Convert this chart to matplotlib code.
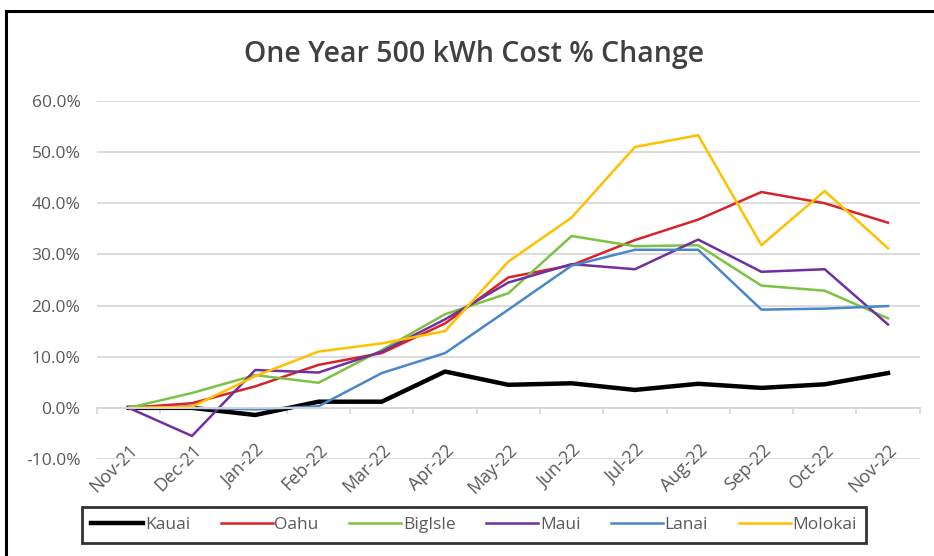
import matplotlib
matplotlib.use("Agg")
import matplotlib.pyplot as plt
from matplotlib.lines import Line2D
from matplotlib.ticker import FuncFormatter, FixedLocator

plt.rcParams['font.family'] = ['Open Sans', 'DejaVu Sans']

# months on the x axis
months = ["Nov-21", "Dec-21", "Jan-22", "Feb-22", "Mar-22", "Apr-22", "May-22",
          "Jun-22", "Jul-22", "Aug-22", "Sep-22", "Oct-22", "Nov-22"]

# % change per island
kauai   = [0.0, 0.0, -1.4, 1.2, 1.2, 7.1, 4.5, 4.8, 3.5, 4.7, 3.9, 4.6, 6.8]
oahu    = [0.0, 0.9, 4.2, 8.4, 10.7, 16.5, 25.5, 27.9, 32.8, 36.8, 42.2, 40.0, 36.2]
bigisle = [0.0, 2.9, 6.4, 4.9, 11.3, 18.3, 22.4, 33.6, 31.6, 31.8, 23.9, 22.9, 17.5]
maui    = [0.0, -5.5, 7.4, 6.9, 11.0, 17.3, 24.5, 28.1, 27.1, 32.9, 26.6, 27.1, 16.3]
lanai   = [0.0, 0.0, -0.3, 0.3, 6.8, 10.7, 19.2, 27.8, 30.9, 30.9, 19.2, 19.4, 19.9]
molokai = [0.0, 0.2, 6.2, 11.0, 12.6, 15.0, 28.6, 37.2, 51.0, 53.3, 31.8, 42.4, 31.2]

series = [
    ("Kauai", kauai, "#000000", 3.2),
    ("Oahu", oahu, "#d6232b", 1.8),
    ("BigIsle", bigisle, "#7cc243", 1.8),
    ("Maui", maui, "#7030a0", 1.8),
    ("Lanai", lanai, "#4a86c8", 1.8),
    ("Molokai", molokai, "#ffc000", 1.8),
]

fig = plt.figure(figsize=(9.34, 5.56), dpi=100)
ax = fig.add_axes([0.1039, 0.1745, 0.8807, 0.6439])

x = list(range(len(months)))
for name, vals, col, lw in series:
    ax.plot(x, vals, color=col, lw=lw, label=name)

ax.set_xlim(-0.5, len(months) - 0.5)
ax.set_ylim(-10, 60)
ax.set_yticks(range(-10, 61, 10))
ax.yaxis.set_major_formatter(FuncFormatter(lambda v, p: f"{v:.1f}%"))
ax.grid(axis="y", color="#d9d9d9", lw=1.3)
ax.set_axisbelow(True)

for s in ["top", "right", "left"]:
    ax.spines[s].set_visible(False)
ax.spines["bottom"].set_position(("data", 0))
ax.spines["bottom"].set_color("#d9d9d9")
ax.spines["bottom"].set_linewidth(1.3)

ax.xaxis.set_major_locator(FixedLocator(x))
ax.set_xticklabels(months, rotation=45, ha="right", rotation_mode="anchor",
                   color="#595959", fontsize=13)
ax.xaxis.set_minor_locator(FixedLocator([i - 0.5 for i in range(len(months) + 1)]))
ax.tick_params(axis="x", which="major", length=0, pad=24)
ax.tick_params(axis="x", which="minor", length=4, color="#d9d9d9", width=1.3)
ax.tick_params(axis="y", length=0, labelcolor="#595959", labelsize=12.5, pad=12)

fig.text(0.5075, 1 - 62 / 556, "One Year 500 kWh Cost % Change", ha="center",
         va="baseline", fontsize=20.5, color="#404040", fontweight="semibold")

leg = fig.legend(loc="center", bbox_to_anchor=(0.5075, 0.0558), ncol=6,
                 frameon=True, fancybox=False, fontsize=12.5, handlelength=3.0,
                 handletextpad=0.1, columnspacing=1.75, borderpad=0.55,
                 borderaxespad=0)
leg.get_frame().set_edgecolor("black")
leg.get_frame().set_linewidth(2)
for t in leg.get_texts():
    t.set_color("#595959")

# outer chart border (left and top edges visible)
fig.add_artist(Line2D([5.5 / 934, 5.5 / 934], [0, 1 - 11 / 556], color="black", lw=2.2,
                      transform=fig.transFigure))
fig.add_artist(Line2D([5.5 / 934, 1], [1 - 11 / 556, 1 - 11 / 556], color="black", lw=2.2,
                      transform=fig.transFigure))

fig.savefig("out.png", dpi=100)
